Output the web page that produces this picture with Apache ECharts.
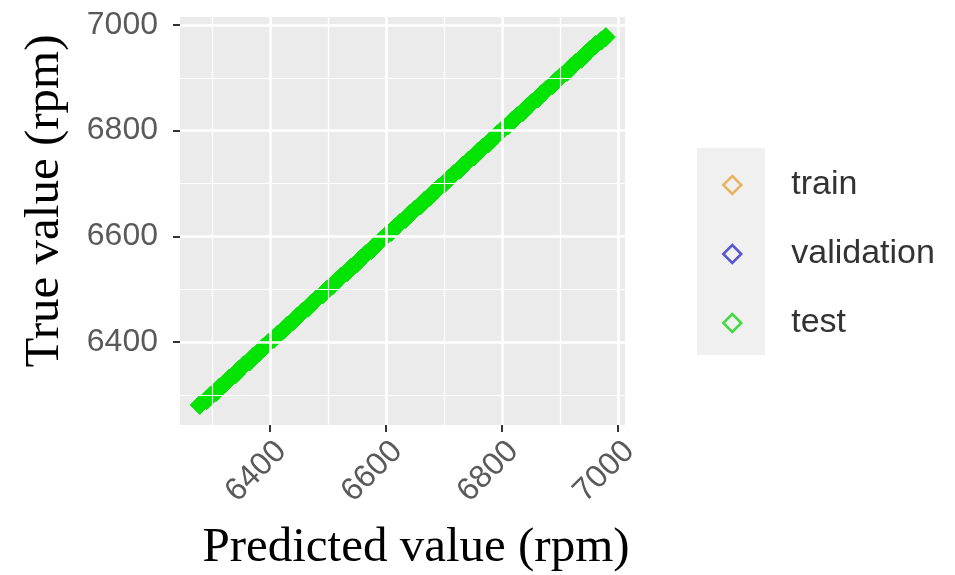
<!DOCTYPE html>
<html>
<head>
<meta charset="utf-8">
<script src="https://cdn.jsdelivr.net/npm/echarts@6/dist/echarts.min.js"></script>
<style>
html, body { margin: 0; padding: 0; background: #ffffff; }
#chart { width: 955px; height: 575px; }
</style>
</head>
<body>
<div id="chart"></div>
<script>
// Test-set predictions against measured speed (rpm)
const predicted = [
  6279, 6291, 6297, 6307, 6313, 6323, 6330, 6341, 6346, 6355,
  6365, 6371, 6382, 6388, 6397, 6407, 6413, 6424, 6430, 6441,
  6447, 6456, 6466, 6472, 6481, 6491, 6498, 6508, 6515, 6523,
  6533, 6540, 6550, 6557, 6565, 6575, 6582, 6590, 6599, 6609,
  6616, 6624, 6634, 6641, 6649, 6660, 6666, 6676, 6683, 6691,
  6702, 6708, 6717, 6727, 6733, 6742, 6752, 6759, 6767, 6777,
  6784, 6792, 6801, 6811, 6818, 6826, 6836, 6843, 6851, 6862,
  6868, 6876, 6887, 6893, 6902, 6912, 6919, 6927, 6937, 6944,
  6952, 6961, 6971, 6979
];
const trueValues = [
  6281, 6290, 6298, 6305, 6314, 6322, 6331, 6339, 6347, 6356,
  6363, 6372, 6381, 6389, 6398, 6406, 6414, 6423, 6431, 6440,
  6448, 6457, 6465, 6473, 6482, 6490, 6499, 6507, 6516, 6524,
  6532, 6541, 6549, 6558, 6566, 6574, 6583, 6591, 6600, 6608,
  6617, 6625, 6633, 6642, 6650, 6659, 6667, 6675, 6684, 6692,
  6701, 6709, 6718, 6726, 6734, 6743, 6751, 6760, 6768, 6776,
  6785, 6793, 6802, 6810, 6819, 6827, 6835, 6844, 6852, 6861,
  6869, 6877, 6886, 6894, 6903, 6911, 6920, 6928, 6936, 6945,
  6953, 6962, 6970, 6977
];
const majorTicks = [6400, 6600, 6800, 7000];
const minorTicks = [6300, 6500, 6700, 6900];
const groupNames = ['train', 'validation', 'test'];
const legendColors = ['#E6A53E', '#2E2EC8', '#45D845'];
const testColor = '#00E600';

const chart = echarts.init(document.getElementById('chart'), null, { renderer: 'canvas' });

const testPoints = predicted.map((p, i) => [p, trueValues[i]]);

// White panel grid lines, placed through the axis scales
const gridLines = []
  .concat(minorTicks.map(v => ({ xAxis: v, lineStyle: { width: 1.2 } })))
  .concat(minorTicks.map(v => ({ yAxis: v, lineStyle: { width: 1.2 } })))
  .concat(majorTicks.map(v => ({ xAxis: v, lineStyle: { width: 2.6 } })))
  .concat(majorTicks.map(v => ({ yAxis: v, lineStyle: { width: 2.6 } })));

const tickLabelStyle = {
  color: '#5a5a5a',
  fontFamily: 'Liberation Sans, Arial, sans-serif',
  fontSize: 32,
  formatter: v => String(v)
};

const option = {
  animation: false,
  backgroundColor: '#ffffff',
  grid: {
    left: 180, right: 330, top: 17, bottom: 150,
    show: true, backgroundColor: '#EBEBEB', borderWidth: 0
  },
  xAxis: {
    type: 'value', min: 6245, max: 7012,
    axisLine: { show: false },
    axisTick: { show: true, customValues: majorTicks, length: 7, lineStyle: { color: '#333333', width: 2 } },
    axisLabel: Object.assign({ customValues: majorTicks, rotate: 45, margin: 10, verticalAlign: 'top' }, tickLabelStyle),
    splitLine: { show: false }
  },
  yAxis: {
    type: 'value', min: 6243, max: 7015,
    axisLine: { show: false },
    axisTick: { show: true, customValues: majorTicks, length: 7, lineStyle: { color: '#333333', width: 2 } },
    axisLabel: Object.assign({ customValues: majorTicks, margin: 22 }, tickLabelStyle),
    splitLine: { show: false }
  },
  legend: {
    orient: 'vertical',
    left: 717, top: 163,
    itemWidth: 18, itemHeight: 18,
    itemGap: 35,
    textStyle: {
      color: '#333333', fontSize: 34,
      fontFamily: 'Liberation Sans, Arial, sans-serif',
      padding: [0, 0, 0, 45]
    },
    data: groupNames.map((name, i) => ({
      name: name,
      icon: 'diamond',
      itemStyle: { color: 'rgba(0,0,0,0)', borderColor: legendColors[i], borderWidth: 2.5 }
    }))
  },
  graphic: [
    {
      type: 'rect', z: -1,
      shape: { x: 697, y: 148, width: 68, height: 207 },
      style: { fill: '#F0F0F0' }
    },
    {
      type: 'text',
      x: 416, y: 548,
      style: {
        text: 'Predicted value (rpm)', fill: '#000000',
        font: '49px "Liberation Serif", "Times New Roman", serif',
        align: 'center', verticalAlign: 'middle'
      }
    },
    {
      type: 'text',
      x: 45, y: 201, rotation: Math.PI / 2,
      style: {
        text: 'True value (rpm)', fill: '#000000',
        font: '49px "Liberation Serif", "Times New Roman", serif',
        align: 'center', verticalAlign: 'middle'
      }
    }
  ],
  series: [
    {
      name: 'panel-grid', type: 'scatter', data: [], z: 1, silent: true,
      markLine: {
        silent: true, symbol: 'none', animation: false,
        label: { show: false },
        lineStyle: { color: '#ffffff', type: 'solid' },
        data: gridLines
      }
    },
    { name: 'train', type: 'scatter', data: [], symbol: 'diamond', itemStyle: { color: legendColors[0] }, z: 3 },
    { name: 'validation', type: 'scatter', data: [], symbol: 'diamond', itemStyle: { color: legendColors[1] }, z: 3 },
    {
      name: 'test', type: 'scatter', data: testPoints, symbol: 'diamond', symbolSize: 19, z: 4,
      itemStyle: { color: testColor, borderColor: '#10D810', borderWidth: 1, opacity: 1 }
    }
  ]
};

chart.setOption(option);
</script>
</body>
</html>
